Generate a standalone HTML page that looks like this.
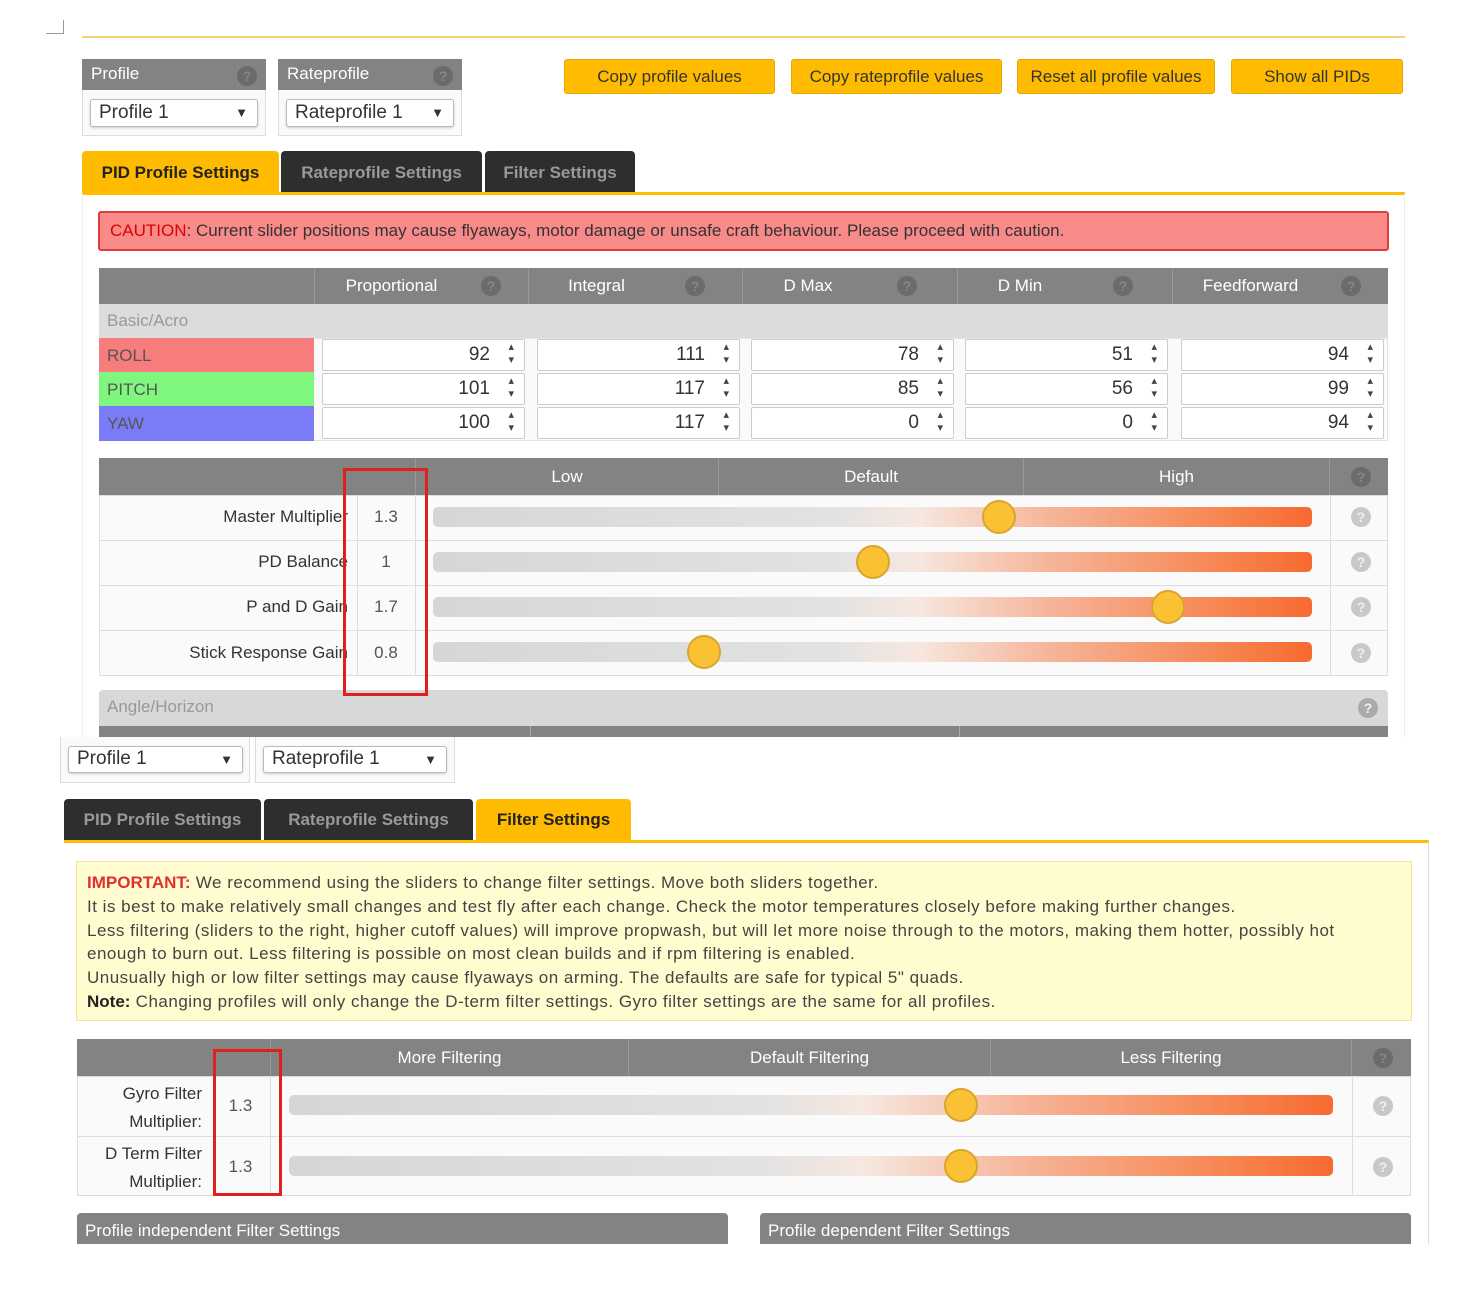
<!DOCTYPE html>
<html><head><meta charset="utf-8"><style>
*{box-sizing:border-box;margin:0;padding:0}
body{width:1474px;height:1294px;background:#fff;position:relative;overflow:hidden;font-family:"Liberation Sans",sans-serif;color:#333}
.a{position:absolute}
.hd{background:#828482;color:#fff;font-size:17px}
.box{border:1px solid #ddd;background:#fafafa}
.sel{background:#fff;border:1px solid #bbb;border-radius:3px;font-size:19px;padding:2px 8px;box-shadow:0 1px 2px #ccc}
.btn{background:#ffbb00;border:1px solid #e8a800;border-radius:3px;color:#333;font-size:17px;text-align:center;line-height:34px}
.tab{color:#999;background:#2e2e2e;font-weight:bold;font-size:17px;text-align:center;border-radius:4px 4px 0 0}
.tab.on{background:#ffbb00;color:#222}
.q{width:20px;height:20px;border-radius:50%;background:#6a6c6a;color:#858785;font-size:14px;text-align:center;line-height:20px;font-weight:bold}
.q2{width:20px;height:20px;border-radius:50%;background:#c8c8c8;color:#f0f0f0;font-size:14px;text-align:center;line-height:20px;font-weight:bold}
.inp{background:#fff;border:1px solid #ccc;border-radius:2px;font-size:19px;text-align:right;padding-right:34px;line-height:30px;height:32px}
.inp:after{content:"▴\A▾";white-space:pre;position:absolute;right:10px;top:1px;font-size:11px;line-height:13px;color:#444}
.trk{height:20px;border-radius:5px;background:linear-gradient(to right,#d6d6d6 0%,#e2e2e2 45%,#f6e8e0 55%,#f6b59a 70%,#f78550 90%,#f76a30 100%)}
.th{width:34px;height:34px;border-radius:50%;background:#fbc135;border:2px solid #d9a52a}
.red{border:3px solid #e02020}
.ct{text-align:center}
.ph{padding-right:60px}
</style></head><body>
<div class="a" style="left:46px;top:20px;width:18px;height:14px;border-right:1px solid #999;border-bottom:1px solid #999"></div>
<div class="a" style="left:82px;top:36px;width:1323px;height:2px;background:#f3d27a"></div>

<div class="a box" style="left:82px;top:59px;width:184px;height:77px"></div>
<div class="a hd" style="left:82px;top:59px;width:184px;height:31px;padding:5px 9px">Profile</div>
<div class="a q" style="left:237px;top:66px">?</div>
<div class="a sel" style="left:90px;top:99px;width:168px;height:28px">Profile 1<span style="position:absolute;right:9px;font-size:13px;top:5px">▼</span></div>
<div class="a box" style="left:278px;top:59px;width:184px;height:77px"></div>
<div class="a hd" style="left:278px;top:59px;width:184px;height:31px;padding:5px 9px">Rateprofile</div>
<div class="a q" style="left:433px;top:66px">?</div>
<div class="a sel" style="left:286px;top:99px;width:168px;height:28px">Rateprofile 1<span style="position:absolute;right:9px;font-size:13px;top:5px">▼</span></div>

<div class="a btn" style="left:564px;top:59px;width:211px;height:35px">Copy profile values</div>
<div class="a btn" style="left:791px;top:59px;width:211px;height:35px">Copy rateprofile values</div>
<div class="a btn" style="left:1017px;top:59px;width:198px;height:35px">Reset all profile values</div>
<div class="a btn" style="left:1231px;top:59px;width:172px;height:35px">Show all PIDs</div>

<div class="a tab on" style="left:82px;top:151px;width:197px;height:43px;line-height:43px">PID Profile Settings</div>
<div class="a tab" style="left:281px;top:151px;width:201px;height:43px;line-height:43px">Rateprofile Settings</div>
<div class="a tab" style="left:485px;top:151px;width:150px;height:43px;line-height:43px">Filter Settings</div>
<div class="a" style="left:82px;top:192px;width:1323px;height:545px;border:1px solid #eee;border-top:3px solid #ffbb00;border-bottom:none"></div>

<div class="a" style="left:98px;top:211px;width:1291px;height:40px;background:#f98a8a;border:2px solid #e23b3b;border-radius:3px;font-size:17px;padding:8px 10px;color:#333"><b style="color:#d00;font-weight:normal">CAUTION</b>: Current slider positions may cause flyaways, motor damage or unsafe craft behaviour. Please proceed with caution.</div>

<div class="a hd" style="left:99px;top:268px;width:1289px;height:36px"></div>
<div class="a" style="left:99px;top:304px;width:1289px;height:34px;background:#dcdcdc;color:#999;font-size:17px;padding:7px 8px">Basic/Acro</div>
<div class="a" style="left:99px;top:338px;width:1289px;height:103px;background:#fafafa;border:1px solid #e4e4e4"></div>
<div class="a" style="left:99px;top:338px;width:215px;height:34px;background:#f77c7c;color:#555;font-size:17px;padding:8px 8px">ROLL</div>
<div class="a" style="left:99px;top:372px;width:215px;height:34px;background:#7ff77f;color:#555;font-size:17px;padding:8px 8px">PITCH</div>
<div class="a" style="left:99px;top:406px;width:215px;height:35px;background:#7b7bf7;color:#555;font-size:17px;padding:8px 8px">YAW</div>

<div class="a hd ct ph" style="left:314px;top:268px;width:214px;height:36px;line-height:36px;border-left:1px solid #999">Proportional</div>
<div class="a hd ct ph" style="left:528px;top:268px;width:214px;height:36px;line-height:36px;border-left:1px solid #999;padding-right:78px">Integral</div>
<div class="a hd ct ph" style="left:742px;top:268px;width:215px;height:36px;line-height:36px;border-left:1px solid #999;padding-right:84px">D Max</div>
<div class="a hd ct ph" style="left:957px;top:268px;width:215px;height:36px;line-height:36px;border-left:1px solid #999;padding-right:90px">D Min</div>
<div class="a hd ct ph" style="left:1172px;top:268px;width:216px;height:36px;line-height:36px;border-left:1px solid #999">Feedforward</div>
<div class="a q" style="left:481px;top:276px">?</div>
<div class="a q" style="left:685px;top:276px">?</div>
<div class="a q" style="left:897px;top:276px">?</div>
<div class="a q" style="left:1113px;top:276px">?</div>
<div class="a q" style="left:1341px;top:276px">?</div>

<div class="a inp" style="left:322px;top:339px;width:203px">92</div>
<div class="a inp" style="left:537px;top:339px;width:203px">111</div>
<div class="a inp" style="left:751px;top:339px;width:203px">78</div>
<div class="a inp" style="left:965px;top:339px;width:203px">51</div>
<div class="a inp" style="left:1181px;top:339px;width:203px">94</div>
<div class="a inp" style="left:322px;top:373px;width:203px">101</div>
<div class="a inp" style="left:537px;top:373px;width:203px">117</div>
<div class="a inp" style="left:751px;top:373px;width:203px">85</div>
<div class="a inp" style="left:965px;top:373px;width:203px">56</div>
<div class="a inp" style="left:1181px;top:373px;width:203px">99</div>
<div class="a inp" style="left:322px;top:407px;width:203px">100</div>
<div class="a inp" style="left:537px;top:407px;width:203px">117</div>
<div class="a inp" style="left:751px;top:407px;width:203px">0</div>
<div class="a inp" style="left:965px;top:407px;width:203px">0</div>
<div class="a inp" style="left:1181px;top:407px;width:203px">94</div>

<div class="a hd" style="left:99px;top:458px;width:1289px;height:37px"></div>
<div class="a hd ct" style="left:415px;top:458px;width:303px;height:37px;line-height:37px;border-left:1px solid #999">Low</div>
<div class="a hd ct" style="left:718px;top:458px;width:305px;height:37px;line-height:37px;border-left:1px solid #999">Default</div>
<div class="a hd ct" style="left:1023px;top:458px;width:307px;height:37px;line-height:37px;border-left:1px solid #999;border-right:1px solid #999">High</div>
<div class="a q" style="left:1351px;top:467px">?</div>
<div class="a" style="left:99px;top:495px;width:1289px;height:181px;background:#fafafa;border:1px solid #ddd"></div>
<div class="a" style="left:99px;top:540px;width:1289px;height:1px;background:#ddd"></div>
<div class="a" style="left:99px;top:585px;width:1289px;height:1px;background:#ddd"></div>
<div class="a" style="left:99px;top:630px;width:1289px;height:1px;background:#ddd"></div>
<div class="a" style="left:357px;top:495px;width:1px;height:181px;background:#ddd"></div>
<div class="a" style="left:415px;top:495px;width:1px;height:181px;background:#ddd"></div>
<div class="a" style="left:1330px;top:495px;width:1px;height:181px;background:#ddd"></div>
<div class="a" style="left:100px;top:507px;width:248px;text-align:right;font-size:17px">Master Multiplier</div>
<div class="a" style="left:100px;top:552px;width:248px;text-align:right;font-size:17px">PD Balance</div>
<div class="a" style="left:100px;top:597px;width:248px;text-align:right;font-size:17px">P and D Gain</div>
<div class="a" style="left:100px;top:643px;width:248px;text-align:right;font-size:17px">Stick Response Gain</div>
<div class="a ct" style="left:357px;top:507px;width:58px;font-size:17px;color:#555">1.3</div>
<div class="a ct" style="left:357px;top:552px;width:58px;font-size:17px;color:#555">1</div>
<div class="a ct" style="left:357px;top:597px;width:58px;font-size:17px;color:#555">1.7</div>
<div class="a ct" style="left:357px;top:643px;width:58px;font-size:17px;color:#555">0.8</div>
<div class="a trk" style="left:433px;top:507px;width:879px"></div>
<div class="a trk" style="left:433px;top:552px;width:879px"></div>
<div class="a trk" style="left:433px;top:597px;width:879px"></div>
<div class="a trk" style="left:433px;top:642px;width:879px"></div>
<div class="a th" style="left:982px;top:500px"></div>
<div class="a th" style="left:856px;top:545px"></div>
<div class="a th" style="left:1151px;top:590px"></div>
<div class="a th" style="left:687px;top:635px"></div>
<div class="a q2" style="left:1351px;top:507px">?</div>
<div class="a q2" style="left:1351px;top:552px">?</div>
<div class="a q2" style="left:1351px;top:597px">?</div>
<div class="a q2" style="left:1351px;top:643px">?</div>

<div class="a" style="left:99px;top:690px;width:1289px;height:36px;background:#d8d8d8;color:#999;font-size:17px;padding:7px 8px;border-radius:4px 4px 0 0">Angle/Horizon</div>
<div class="a q2" style="left:1358px;top:698px;background:#aaa">?</div>
<div class="a" style="left:99px;top:726px;width:1289px;height:11px;background:#828482"></div>
<div class="a" style="left:530px;top:726px;width:1px;height:11px;background:#aaa"></div>
<div class="a" style="left:959px;top:726px;width:1px;height:11px;background:#aaa"></div>
<div class="a red" style="left:343px;top:468px;width:85px;height:228px"></div>

<div class="a box" style="left:60px;top:737px;width:190px;height:46px;border-top:none"></div>
<div class="a box" style="left:255px;top:737px;width:200px;height:46px;border-top:none"></div>
<div class="a sel" style="left:68px;top:746px;width:175px;height:27px;padding-top:1px">Profile 1<span style="position:absolute;right:9px;font-size:13px;top:5px">▼</span></div>
<div class="a sel" style="left:263px;top:746px;width:184px;height:27px;padding-top:1px">Rateprofile 1<span style="position:absolute;right:9px;font-size:13px;top:5px">▼</span></div>

<div class="a tab" style="left:64px;top:799px;width:197px;height:42px;line-height:42px">PID Profile Settings</div>
<div class="a tab" style="left:264px;top:799px;width:209px;height:42px;line-height:42px">Rateprofile Settings</div>
<div class="a tab on" style="left:476px;top:799px;width:155px;height:42px;line-height:42px">Filter Settings</div>
<div class="a" style="left:64px;top:840px;width:1365px;height:404px;border-right:1px solid #ddd;border-top:3px solid #ffbb00"></div>

<div class="a" style="left:76px;top:861px;width:1336px;height:160px;background:#fffccf;border:1px solid #f0e6a0;font-size:17px;letter-spacing:0.5px;line-height:23.8px;padding:9px 10px;color:#444;white-space:nowrap;overflow:hidden"><b style="color:#e03030;letter-spacing:0">IMPORTANT:</b> We recommend using the sliders to change filter settings. Move both sliders together.<br>It is best to make relatively small changes and test fly after each change. Check the motor temperatures closely before making further changes.<br>Less filtering (sliders to the right, higher cutoff values) will improve propwash, but will let more noise through to the motors, making them hotter, possibly hot<br>enough to burn out. Less filtering is possible on most clean builds and if rpm filtering is enabled.<br>Unusually high or low filter settings may cause flyaways on arming. The defaults are safe for typical 5" quads.<br><b style="color:#222;letter-spacing:0">Note:</b> Changing profiles will only change the D-term filter settings. Gyro filter settings are the same for all profiles.</div>

<div class="a hd" style="left:77px;top:1039px;width:1334px;height:37px"></div>
<div class="a hd ct" style="left:270px;top:1039px;width:358px;height:37px;line-height:37px;border-left:1px solid #999">More Filtering</div>
<div class="a hd ct" style="left:628px;top:1039px;width:362px;height:37px;line-height:37px;border-left:1px solid #999">Default Filtering</div>
<div class="a hd ct" style="left:990px;top:1039px;width:362px;height:37px;line-height:37px;border-left:1px solid #999;border-right:1px solid #999">Less Filtering</div>
<div class="a q" style="left:1373px;top:1048px">?</div>
<div class="a" style="left:77px;top:1076px;width:1334px;height:120px;background:#fafafa;border:1px solid #ddd"></div>
<div class="a" style="left:77px;top:1136px;width:1334px;height:1px;background:#ddd"></div>
<div class="a" style="left:213px;top:1076px;width:1px;height:120px;background:#ddd"></div>
<div class="a" style="left:270px;top:1076px;width:1px;height:120px;background:#ddd"></div>
<div class="a" style="left:1352px;top:1076px;width:1px;height:120px;background:#ddd"></div>
<div class="a" style="left:78px;top:1080px;width:124px;text-align:right;font-size:17px;line-height:28px">Gyro Filter<br>Multiplier:</div>
<div class="a" style="left:78px;top:1140px;width:124px;text-align:right;font-size:17px;line-height:28px">D Term Filter<br>Multiplier:</div>
<div class="a ct" style="left:213px;top:1096px;width:55px;font-size:17px;color:#555">1.3</div>
<div class="a ct" style="left:213px;top:1157px;width:55px;font-size:17px;color:#555">1.3</div>
<div class="a trk" style="left:289px;top:1095px;width:1044px"></div>
<div class="a trk" style="left:289px;top:1156px;width:1044px"></div>
<div class="a th" style="left:944px;top:1088px"></div>
<div class="a th" style="left:944px;top:1149px"></div>
<div class="a q2" style="left:1373px;top:1096px">?</div>
<div class="a q2" style="left:1373px;top:1157px">?</div>
<div class="a red" style="left:213px;top:1049px;width:69px;height:147px"></div>

<div class="a hd" style="left:77px;top:1213px;width:651px;height:31px;padding:8px 8px;border-radius:4px 4px 0 0">Profile independent Filter Settings</div>
<div class="a hd" style="left:760px;top:1213px;width:651px;height:31px;padding:8px 8px;border-radius:4px 4px 0 0">Profile dependent Filter Settings</div>
</body></html>
